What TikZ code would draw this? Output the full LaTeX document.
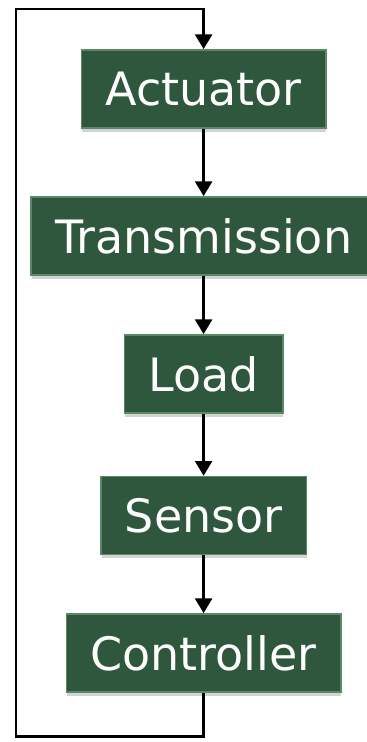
\documentclass[tikz,border=0pt]{standalone}
\usepackage{fontspec}
\usetikzlibrary{arrows.meta,shadows}
\newfontfamily\blockfont{DejaVu Sans}
\definecolor{blockfill}{RGB}{46,87,62}
\definecolor{blockrim}{RGB}{90,136,104}
\begin{document}
\begin{tikzpicture}
\tikzset{loopline/.style={line width=2pt,black}}
\tikzset{flow/.style={loopline,-{Triangle[width=12pt,length=10.5pt]}}}

\tikzset{block/.style={
rectangle,fill=blockfill,draw=blockrim,line width=1.2pt,
text=white,font=\blockfont\fontsize{32.7}{36}\selectfont,
inner xsep=0.6cm,
minimum height=1.95cm,
drop shadow={shadow xshift=0.5pt,shadow yshift=-2.5pt,opacity=0.35},
align=center}}

\useasboundingbox (0,0) rectangle (9.175,-18.55);

\draw
(5.09,-2.225) node[block,name=uActuator] {Actuator}
(5.09,-5.9) node[block,name=uTransmission] {Transmission}
(5.09,-9.35) node[block,name=uLoad] {Load}
(5.09,-12.89) node[block,name=uSensor] {Sensor}
(5.09,-16.325) node[block,name=uController] {Controller};

% forward chain
\draw[flow] (uActuator) -- (uTransmission);
\draw[flow] (uTransmission) -- (uLoad);
\draw[flow] (uLoad) -- (uSensor);
\draw[flow] (uSensor) -- (uController);

% feedback loop
\path
(uController.south) ++(0,-1.1) coordinate (C1)
(0.4,0) coordinate (L0);

\draw[flow]
(uController.south) -- (C1) -- (L0|-C1) -- (L0|-0,-0.225)
-- (uActuator.north|-0,-0.225) -- (uActuator.north);

\end{tikzpicture}
\end{document}
